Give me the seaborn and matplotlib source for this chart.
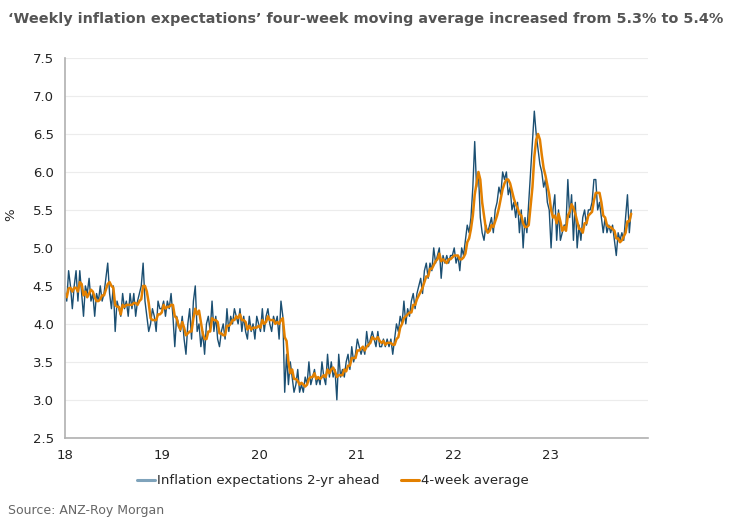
import matplotlib
matplotlib.use("Agg")
import matplotlib.pyplot as plt
import seaborn as sns
import numpy as np
import pandas as pd

# weekly readings, 2-yr ahead inflation expectations (%), one list per year
exp_2018 = [4.4, 4.3, 4.7, 4.5, 4.2, 4.5, 4.7, 4.3, 4.7, 4.4,
            4.1, 4.5, 4.4, 4.6, 4.3, 4.4, 4.1, 4.4, 4.3, 4.5,
            4.3, 4.4, 4.6, 4.8, 4.4, 4.2, 4.5, 3.9, 4.3, 4.2,
            4.1, 4.4, 4.2, 4.3, 4.1, 4.4, 4.2, 4.4, 4.1, 4.3,
            4.4, 4.5, 4.8, 4.3, 4.1, 3.9, 4.0, 4.2, 4.1, 3.9,
            4.3, 4.2]
exp_2019 = [4.2, 4.3, 4.1, 4.3, 4.2, 4.4, 4.1, 3.7, 4.1, 4.0,
            3.9, 4.1, 3.8, 3.6, 4.0, 4.2, 3.8, 4.3, 4.5, 3.9,
            4.0, 3.7, 3.9, 3.6, 4.0, 4.1, 3.9, 4.3, 3.9, 4.1,
            3.8, 3.7, 3.9, 4.0, 3.8, 4.2, 3.9, 4.1, 4.0, 4.2,
            4.1, 4.0, 4.2, 3.9, 4.1, 3.9, 3.8, 4.1, 3.9, 4.0,
            3.8, 4.1]
exp_2020 = [4.0, 3.9, 4.2, 3.9, 4.1, 4.2, 4.0, 3.9, 4.1, 4.0,
            4.1, 3.8, 4.3, 4.1, 3.1, 3.6, 3.2, 3.5, 3.3, 3.1,
            3.2, 3.4, 3.1, 3.2, 3.1, 3.3, 3.2, 3.5, 3.2, 3.3,
            3.4, 3.2, 3.3, 3.2, 3.5, 3.3, 3.2, 3.6, 3.3, 3.5,
            3.3, 3.4, 3.0, 3.6, 3.3, 3.4, 3.3, 3.5, 3.6, 3.4,
            3.7, 3.5]
exp_2021 = [3.6, 3.8, 3.7, 3.6, 3.7, 3.6, 3.9, 3.7, 3.8, 3.9,
            3.8, 3.7, 3.9, 3.7, 3.7, 3.8, 3.7, 3.8, 3.7, 3.8,
            3.6, 3.8, 4.0, 3.9, 4.1, 4.0, 4.3, 4.0, 4.2, 4.1,
            4.3, 4.4, 4.2, 4.4, 4.5, 4.6, 4.4, 4.7, 4.8, 4.6,
            4.8, 4.7, 5.0, 4.8, 4.9, 5.0, 4.6, 4.9, 4.8, 4.9,
            4.8, 4.9]
exp_2022 = [4.9, 5.0, 4.8, 4.9, 4.7, 5.0, 4.9, 5.1, 5.3, 5.2,
            5.4, 5.8, 6.4, 5.8, 6.0, 5.4, 5.2, 5.1, 5.3, 5.2,
            5.3, 5.4, 5.2, 5.5, 5.6, 5.8, 5.7, 6.0, 5.9, 6.0,
            5.7, 5.8, 5.5, 5.6, 5.4, 5.6, 5.2, 5.5, 5.0, 5.4,
            5.2, 5.6, 6.0, 6.4, 6.8, 6.5, 6.3, 6.1, 6.0, 5.8,
            5.9, 5.6]
exp_2023 = [5.5, 5.0, 5.5, 5.7, 5.1, 5.5, 5.1, 5.2, 5.3, 5.3,
            5.9, 5.4, 5.7, 5.1, 5.6, 5.0, 5.3, 5.1, 5.4, 5.5,
            5.3, 5.5, 5.5, 5.6, 5.9, 5.9, 5.5, 5.6, 5.4, 5.2,
            5.4, 5.2, 5.3, 5.2, 5.3, 5.1, 4.9, 5.2, 5.1, 5.2,
            5.1, 5.4, 5.7, 5.2, 5.5]

year_ticks = [18, 19, 20, 21, 22, 23]
y_ticks = [2.5, 3.0, 3.5, 4.0, 4.5, 5.0, 5.5, 6.0, 6.5, 7.0, 7.5]

weekly = exp_2018 + exp_2019 + exp_2020 + exp_2021 + exp_2022 + exp_2023
df = pd.DataFrame({"expect": weekly})
df["t"] = 18 + np.arange(len(df)) * 7 / 365.25
df["avg4"] = df["expect"].rolling(4, min_periods=1).mean()

sns.set_style("white")
plt.rcParams["font.family"] = ["DejaVu Sans"]

fig = plt.figure(figsize=(7.29, 5.32), dpi=100)
ax = fig.add_axes([0.089, 0.177, 0.800, 0.714])

sns.lineplot(data=df, x="t", y="expect", color="#1b4f72", linewidth=1.0,
             label="Inflation expectations 2-yr ahead", ax=ax)
sns.lineplot(data=df, x="t", y="avg4", color="#e38000", linewidth=1.8,
             label="4-week average", ax=ax)

ax.set_xlim(18, 24)
ax.set_ylim(2.5, 7.5)
ax.set_xticks(year_ticks)
ax.set_xticklabels([str(y) for y in year_ticks])
ax.set_yticks(y_ticks)
ax.set_yticklabels([f"{v:.1f}" for v in y_ticks])
ax.yaxis.grid(True, color="#ececec", linewidth=0.8)
ax.set_axisbelow(True)

for s in ["top", "right"]:
    ax.spines[s].set_visible(False)
for s in ["left", "bottom"]:
    ax.spines[s].set_color("#b0b0b0")
    ax.spines[s].set_linewidth(1.2)
ax.tick_params(axis="both", direction="out", length=4, color="#b0b0b0",
               labelsize=9.5, labelcolor="#222222", pad=4)
ax.set_xlabel("")
ax.set_ylabel("%", fontsize=9.5, color="#222222")
ax.yaxis.set_label_coords(-0.082, 0.587)

handles, labels = ax.get_legend_handles_labels()
ax.get_legend().remove()
leg = fig.legend(handles, labels, loc="center left", bbox_to_anchor=(0.172, 0.096),
                 ncol=2, frameon=False, fontsize=9.6, handlelength=1.3,
                 columnspacing=1.6, handletextpad=0.2)
for line in leg.get_lines():
    line.set_linewidth(2.2)
leg.get_lines()[0].set_color("#7fa3bb")

fig.text(0.011, 0.965, "\u2018Weekly inflation expectations\u2019 four-week moving average increased from 5.3% to 5.4%",
         fontsize=10.4, fontweight="bold", color="#555555", ha="left", va="center")
fig.text(0.011, 0.04, "Source: ANZ-Roy Morgan", fontsize=9, color="#666666",
         ha="left", va="center")

fig.savefig("out.png", dpi=100)
